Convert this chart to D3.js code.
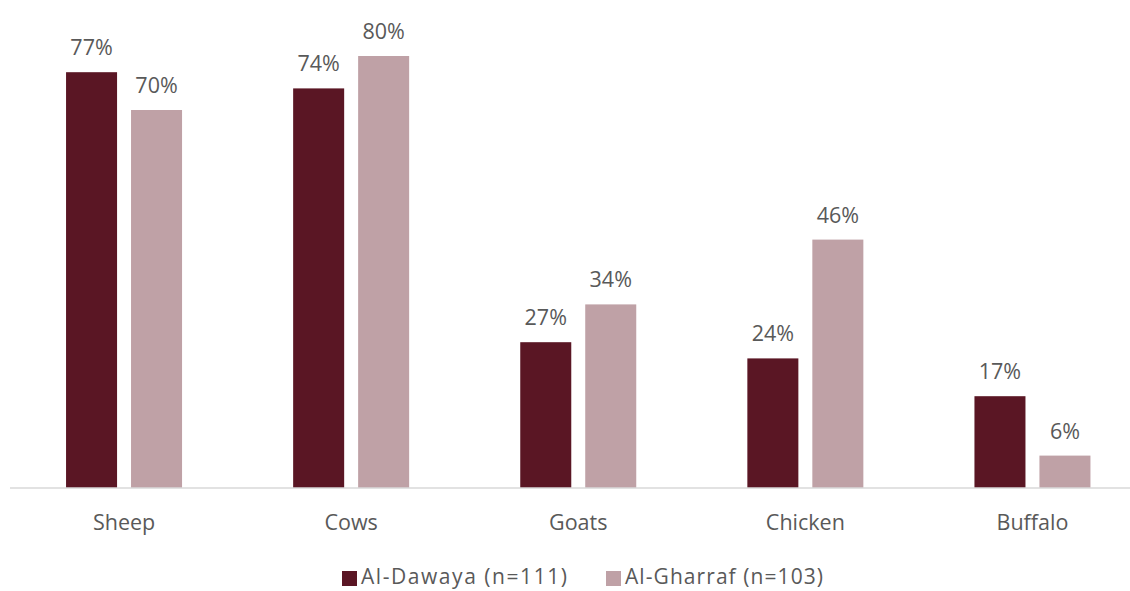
<!DOCTYPE html>
<html><head><meta charset="utf-8">
<script src="https://cdn.jsdelivr.net/npm/d3@7"></script>
<style>body{margin:0;background:#fff;}svg{display:block;font-family:"Open Sans","Noto Sans",sans-serif;}</style>
</head><body>
<svg id="c" width="1130" height="591"></svg>
<script>
const categories = ["Sheep","Cows","Goats","Chicken","Buffalo"];
const seriesNames = ["Al-Dawaya (n=111)","Al-Gharraf (n=103)"];
const dawaya = [77,74,27,24,17];
const gharraf = [70,80,34,46,6];
const colors = ["#5A1624","#BFA1A6"];

const svg = d3.select("#c");
const baseY = 488;
const x0 = d3.scaleBand().domain(categories).range([10.5, 1146]);
const x1 = d3.scaleBand().domain([0,1]).range([0, 116]).paddingInner(0.215);
const y = d3.scaleLinear().domain([0,100]).range([baseY, baseY-540]);

const data = categories.map((c,i)=>({c, v:[dawaya[i], gharraf[i]]}));
const g = svg.append("g");
data.forEach(d=>{
  const cx = x0(d.c) + x0.bandwidth()/2 - 58;
  d.v.forEach((v,j)=>{
    g.append("rect").attr("x", cx + x1(j)).attr("y", y(v)).attr("width", x1.bandwidth())
      .attr("height", baseY - y(v)).attr("fill", colors[j]);
    g.append("text").attr("x", cx + x1(j) + x1.bandwidth()/2).attr("y", y(v) - 17)
      .attr("text-anchor","middle").attr("font-size",21.5).attr("fill","#595959").text(v+"%");
  });
});

const axis = svg.append("g").attr("transform",`translate(0,${baseY})`)
  .call(d3.axisBottom(x0).tickSize(0).tickPadding(27));
axis.select(".domain").attr("stroke","#d9d9d9").attr("stroke-width",1.5).attr("d","M10,0H1130");
axis.selectAll("text").attr("font-size",21.5).attr("fill","#595959").attr("font-family",'"Open Sans","Noto Sans",sans-serif');

const leg = svg.append("g");
const legX = [342, 606];
const legW = [206, 198];
seriesNames.forEach((n,j)=>{
  leg.append("rect").attr("x",legX[j]).attr("y",571).attr("width",15).attr("height",15).attr("fill",colors[j]);
  leg.append("text").attr("x",legX[j]+19).attr("y",584).attr("font-size",21)
    .attr("textLength",legW[j]).attr("lengthAdjust","spacing").attr("fill","#595959").text(n);
});
</script>
</body></html>
